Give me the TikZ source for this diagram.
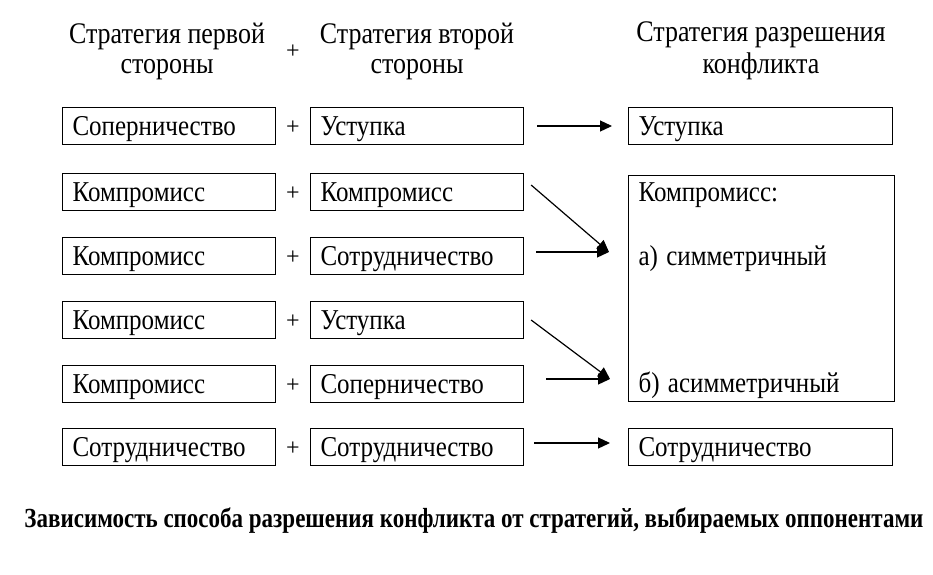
\documentclass[tikz,border=0pt]{standalone}
\usepackage{fontspec}
\usepackage{graphicx}
\setmainfont{Liberation Serif}
\usetikzlibrary{arrows.meta}
\newcommand{\stxt}[1]{\scalebox{1}[1.15]{#1}}
\tikzset{
  stratbox/.style={draw, line width=1.1pt, anchor=west, text width=193pt,
    inner xsep=10pt, inner ysep=0pt, minimum height=37pt, align=left,
    text height=22pt, text depth=4pt, font=\fontsize{25}{30}\selectfont},
  headtext/.style={align=center, font=\fontsize{26}{26}\selectfont},
  plus/.style={font=\fontsize{24}{26}\selectfont, yshift=-2pt},
  resarrow/.style={-{Triangle[length=12pt,width=11pt]}, line width=1.2pt}
}
\begin{document}
\begin{tikzpicture}[x=1pt,y=-1pt]
  \useasboundingbox (0,0) rectangle (933,574);

  % Headings
  \node[headtext] (h1) at (167,51) {\stxt{Стратегия первой}\\[4pt]\stxt{стороны}};
  \node[plus] (hp) at (293,50) {+};
  \node[headtext] (h2) at (417,51) {\stxt{Стратегия второй}\\[4pt]\stxt{стороны}};
  \node[headtext] (h3) at (761,51) {\stxt{Стратегия разрешения}\\[4pt]\stxt{конфликта}};

  % Strategy pairs
  \foreach \i/\y/\a/\b in {1/126/Соперничество/Уступка,
                           2/192/Компромисс/Компромисс,
                           3/256/Компромисс/Сотрудничество,
                           4/320/Компромисс/Уступка,
                           5/384/Компромисс/Соперничество,
                           6/447/Сотрудничество/Сотрудничество}{
    \node[stratbox] (l\i) at (62,\y) {\stxt{\a}};
    \node[plus] (p\i) at (293,\y) {+};
    \node[stratbox] (r\i) at (310,\y) {\stxt{\b}};
  }

  % Results
  \node[stratbox, text width=244pt] (res1) at (628,126) {\stxt{Уступка}};
  \node[draw, line width=1.1pt, minimum width=266pt, minimum height=226pt,
        anchor=north west, inner sep=0pt] (kbox) at (628,175) {};
  \node[stratbox, draw=none] (k0) at (628,192) {\stxt{Компромисс:}};
  \node[stratbox, draw=none] (ka) at (628,256) {\stxt{а) симметричный}};
  \node[stratbox, draw=none] (kb) at (628,383) {\stxt{б) асимметричный}};
  \node[stratbox, text width=244pt] (res6) at (628,447) {\stxt{Сотрудничество}};

  % Arrow targets
  \coordinate (ta) at (609,252);
  \coordinate (tb) at (610,379);

  % Arrows
  \draw[resarrow, shorten <=13pt, shorten >=16pt] (r1.east) -- (res1.west);
  \draw[resarrow] ([xshift=7pt,yshift=7pt]r2.east) -- (ta);
  \draw[resarrow] ([xshift=12pt,yshift=4pt]r3.east) -- (ta);
  \draw[resarrow] ([xshift=7pt]r4.east) -- (tb);
  \draw[resarrow] ([xshift=22pt,yshift=5pt]r5.east) -- (tb);
  \draw[resarrow, shorten <=10pt, shorten >=18pt] ([yshift=4pt]r6.east) -- ([yshift=4pt]res6.west);

  % Caption
  \node[font=\fontsize{23}{26}\selectfont\bfseries] (cap) at (474,521)
    {\scalebox{1}[1.2]{Зависимость способа разрешения конфликта от стратегий, выбираемых оппонентами}};
\end{tikzpicture}
\end{document}
